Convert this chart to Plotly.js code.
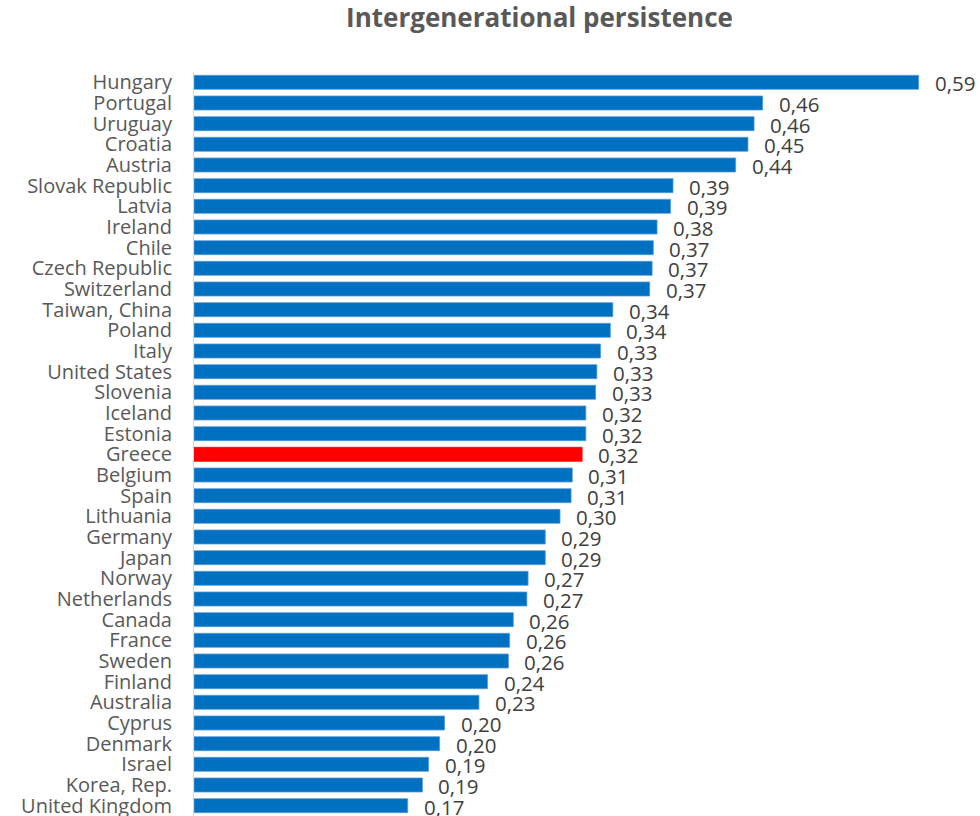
<!DOCTYPE html>
<html>
<head>
<meta charset="utf-8">
<script src="https://cdn.plot.ly/plotly-3.0.1.min.js"></script>
<style>html,body{margin:0;padding:0;background:#fff}#chart{width:980px;height:816px}</style>
</head>
<body>
<div id="chart"></div>
<script>
const countries = ["Hungary","Portugal","Uruguay","Croatia","Austria","Slovak Republic","Latvia","Ireland","Chile","Czech Republic","Switzerland","Taiwan, China","Poland","Italy","United States","Slovenia","Iceland","Estonia","Greece","Belgium","Spain","Lithuania","Germany","Japan","Norway","Netherlands","Canada","France","Sweden","Finland","Australia","Cyprus","Denmark","Israel","Korea, Rep.","United Kingdom"];
const persistence = [0.590,0.463,0.456,0.451,0.441,0.390,0.388,0.377,0.374,0.373,0.371,0.341,0.339,0.331,0.328,0.327,0.319,0.319,0.316,0.308,0.307,0.298,0.286,0.286,0.272,0.271,0.260,0.257,0.256,0.239,0.232,0.204,0.200,0.191,0.186,0.174];
const highlight = "Greece";
const titleText = "Intergenerational persistence";

const FONT = "Open Sans, Liberation Sans, Arial, sans-serif";
const colors = countries.map(c => c === highlight ? "#FF0000" : "#0070C0");
const lineColors = countries.map(c => c === highlight ? "#FF0000" : "#5B9BD5");

const trace = {
  type: "bar",
  orientation: "h",
  x: persistence,
  y: countries,
  marker: {color: colors, line: {color: lineColors, width: 0.75}},
  hoverinfo: "x+y"
};

const annotations = countries.map((c, i) => ({
  x: persistence[i], y: c, xref: "x", yref: "y",
  text: persistence[i].toFixed(2).replace(".", ","),
  showarrow: false, xanchor: "left", yanchor: "middle",
  xshift: 14, yshift: -1,
  font: {family: FONT, size: 20.5, color: "#404040"}
}));

const layout = {
  width: 980, height: 816,
  margin: {l: 194, r: 2, t: 72, b: 0, pad: 0},
  paper_bgcolor: "#ffffff", plot_bgcolor: "#ffffff",
  title: {text: "<b>" + titleText + "</b>", x: 0.5505, xanchor: "center", y: 0.978, yanchor: "middle",
    font: {family: FONT, size: 26, color: "#595959"}},
  bargap: 0.32,
  showlegend: false,
  xaxis: {range: [0, 0.6383], showgrid: false, zeroline: false, showticklabels: false, showline: false, ticks: ""},
  yaxis: {type: "category", autorange: false, range: [countries.length - 0.5, -0.5],
    showline: true, linecolor: "#D9D9D9", linewidth: 1,
    tickmode: "array", tickvals: countries, ticktext: countries,
    ticks: "", ticklabelstandoff: 17, showgrid: false,
    tickfont: {family: FONT, size: 20, color: "#595959"}},
  annotations: annotations
};

Plotly.newPlot("chart", [trace], layout, {displayModeBar: false, staticPlot: true});
</script>
</body>
</html>
